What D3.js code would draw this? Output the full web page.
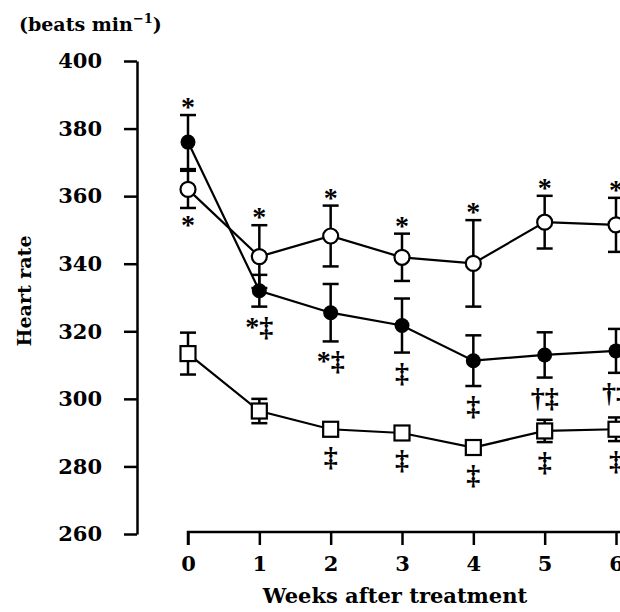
<!DOCTYPE html>
<html>
<head>
<meta charset="utf-8">
<script src="https://cdn.jsdelivr.net/npm/d3@7"></script>
<style>
  html, body { margin: 0; padding: 0; background: #fff; }
  svg { display: block; }
</style>
</head>
<body>
<svg id="chart" width="620" height="612"></svg>
<script>
// ---- data ----
const weeks = [0, 1, 2, 3, 4, 5, 6];
const yTicks = [260, 280, 300, 320, 340, 360, 380, 400];

const filledMean = [376, 332, 325.5, 321.7, 311.3, 313, 314.2];
const filledErr  = [8, 4.7, 8.5, 8, 7.5, 6.7, 6.5];
const openMean   = [362, 342.1, 348.2, 341.9, 340.1, 352.3, 351.5];
const openErr    = [5.5, 9.3, 9, 7, 12.8, 7.8, 8];
const squareMean = [313.4, 296.4, 291, 289.9, 285.6, 290.5, 291];
const squareErr  = [6.2, 3.6, 2, 2, 2, 3.3, 3.5];

const filledAbove = ["*", "", "", "", "", "", ""];
const filledBelow = ["", "*‡", "*‡", "‡", "‡", "†‡", "†‡"];
const openAbove   = ["", "*", "*", "*", "*", "*", "*"];
const openBelow   = ["*", "", "", "", "", "", ""];
const squareBelow = ["", "", "‡", "‡", "‡", "‡", "‡"];

const yLabel = "(beats min";
const yLabelSup = "−1";
const yTitle = "Heart rate";
const xTitle = "Weeks after treatment";

// ---- layout ----
const svg = d3.select("#chart");
const x = d3.scaleLinear().domain([0, 6]).range([188, 616]);
const y = d3.scaleLinear().domain([260, 400]).range([534, 61]);
const tickFont = "'DejaVu Serif', serif";
const annFont = "'Liberation Serif', 'Times New Roman', serif";

// y axis
const yAxis = svg.append("g")
  .attr("transform", "translate(137,0)")
  .call(d3.axisLeft(y).tickValues(yTicks).tickSize(13).tickSizeOuter(0).tickPadding(22).tickFormat(d3.format("d")));
// x axis
const xAxis = svg.append("g")
  .attr("transform", "translate(0,532)")
  .call(d3.axisBottom(x).tickValues(weeks).tickSize(13).tickSizeOuter(0).tickPadding(11).tickFormat(d3.format("d")));

[yAxis, xAxis].forEach(g => {
  g.select(".domain").attr("stroke", "#000").attr("stroke-width", 2.5);
  g.selectAll(".tick line").attr("stroke", "#000").attr("stroke-width", 2.5);
  g.selectAll(".tick text").attr("fill", "#000")
    .style("font-family", tickFont).style("font-weight", "bold").style("font-size", "21px");
});
xAxis.select(".domain").attr("d", `M${x(0)},13V0H620`);

// titles
const yl = svg.append("text").attr("x", 19).attr("y", 31)
  .style("font-family", tickFont).style("font-weight", "bold").style("font-size", "19px").attr("fill", "#000");
yl.append("tspan").text(yLabel);
yl.append("tspan").attr("dy", -8).style("font-size", "13px").text(yLabelSup);
yl.append("tspan").attr("dy", 8).text(")");

svg.append("text").attr("transform", "translate(31,291) rotate(-90)")
  .attr("text-anchor", "middle")
  .style("font-family", tickFont).style("font-weight", "bold").style("font-size", "19px")
  .attr("fill", "#000").text(yTitle);

svg.append("text").attr("x", 395).attr("y", 603)
  .attr("text-anchor", "middle")
  .style("font-family", tickFont).style("font-weight", "bold").style("font-size", "21px")
  .attr("fill", "#000").text(xTitle);

// series
const series = [
  { mean: squareMean, err: squareErr, shape: "square" },
  { mean: filledMean, err: filledErr, shape: "filled" },
  { mean: openMean, err: openErr, shape: "open" }
];

const line = d3.line().x((d, i) => x(weeks[i])).y(d => y(d));
series.forEach(s => {
  svg.append("path").attr("d", line(s.mean))
    .attr("fill", "none").attr("stroke", "#000").attr("stroke-width", 2.2);
});

series.forEach(s => {
  const g = svg.append("g");
  s.mean.forEach((m, i) => {
    const cx = x(weeks[i]), y1 = y(m + s.err[i]), y2 = y(m - s.err[i]);
    g.append("line").attr("x1", cx).attr("x2", cx).attr("y1", y1).attr("y2", y2)
      .attr("stroke", "#000").attr("stroke-width", 2.5);
    [y1, y2].forEach(yy => g.append("line").attr("x1", cx - 8).attr("x2", cx + 8)
      .attr("y1", yy).attr("y2", yy).attr("stroke", "#000").attr("stroke-width", 2.5));
  });
});

series.forEach(s => {
  s.mean.forEach((m, i) => {
    const cx = x(weeks[i]), cy = y(m);
    if (s.shape === "square") {
      svg.append("rect").attr("x", cx - 7.5).attr("y", cy - 7.5).attr("width", 15).attr("height", 15)
        .attr("fill", "#fff").attr("stroke", "#000").attr("stroke-width", 2.2);
    } else if (s.shape === "open") {
      svg.append("circle").attr("cx", cx).attr("cy", cy).attr("r", 7.5)
        .attr("fill", "#fff").attr("stroke", "#000").attr("stroke-width", 2.2);
    } else {
      svg.append("circle").attr("cx", cx).attr("cy", cy).attr("r", 7.5).attr("fill", "#000");
    }
  });
});

// annotations
function annotate(labels, mean, err, where, minHalf) {
  labels.forEach((t, i) => {
    if (!t) return;
    const cx = x(weeks[i]);
    let yy;
    if (where === "above") {
      yy = y(mean[i] + err[i]) + 1;
    } else {
      const edge = Math.max(y(mean[i] - err[i]), y(mean[i]) + minHalf);
      yy = edge + (t === "*" ? 26 : 29);
    }
    svg.append("text").attr("x", cx).attr("y", yy).attr("text-anchor", "middle")
      .style("font-family", annFont).style("font-weight", "bold").style("font-size", "28px")
      .attr("fill", "#000").text(t);
  });
}
annotate(filledAbove, filledMean, filledErr, "above", 7.5);
annotate(filledBelow, filledMean, filledErr, "below", 7.5);
annotate(openAbove, openMean, openErr, "above", 7.5);
annotate(openBelow, openMean, openErr, "below", 7.5);
annotate(squareBelow, squareMean, squareErr, "below", 7.5);
</script>
</body>
</html>
